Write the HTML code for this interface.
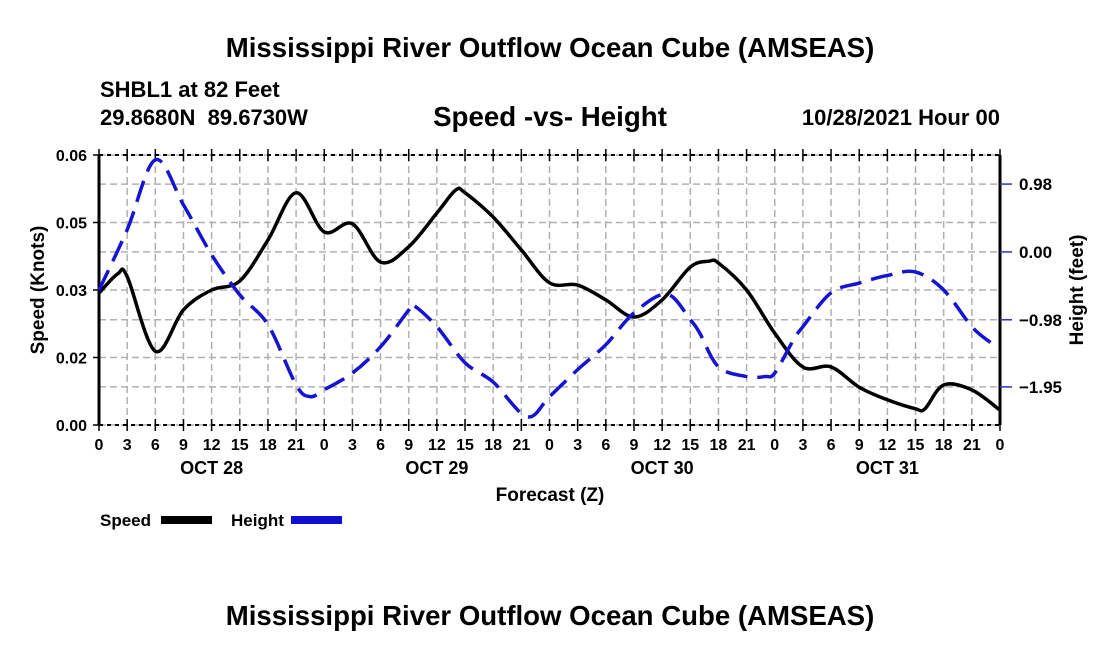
<!DOCTYPE html>
<html><head><meta charset="utf-8">
<style>
body{margin:0;background:#fff;}
svg text{font-family:"Liberation Sans",sans-serif;font-weight:bold;fill:#000;}
</style></head>
<body>
<svg id="chart" width="1100" height="650" xmlns="http://www.w3.org/2000/svg">
<text x="550" y="57" font-size="27.6" text-anchor="middle">Mississippi River Outflow Ocean Cube (AMSEAS)</text>
<text x="100" y="97" font-size="22">SHBL1 at 82 Feet</text>
<text x="100" y="125" font-size="22" xml:space="preserve">29.8680N  89.6730W</text>
<text x="550" y="126" font-size="27.7" text-anchor="middle">Speed -vs- Height</text>
<text x="1000" y="125" font-size="22" text-anchor="end">10/28/2021 Hour 00</text>
<text x="550" y="625" font-size="27.6" text-anchor="middle">Mississippi River Outflow Ocean Cube (AMSEAS)</text>
<g id="grid"></g>
<g id="axes"></g>
<g id="series"></g>
<text x="550" y="501" font-size="19" text-anchor="middle">Forecast (Z)</text>
<text transform="translate(44,290) rotate(-90)" font-size="19" text-anchor="middle">Speed (Knots)</text>
<text transform="translate(1083,290) rotate(-90)" font-size="19" text-anchor="middle">Height (feet)</text>
<g>
<text x="100" y="526" font-size="17">Speed</text>
<rect x="161" y="516" width="51" height="8" fill="#000"/>
<text x="231" y="526" font-size="17">Height</text>
<rect x="291" y="516" width="51" height="8" fill="#1010d0"/>
</g>
</svg>
<script>
const hoursSpeed=[0,2,3,6,9,12,15,18,21,24,27,30,33,36,38,39,42,45,48,51,54,57,60,63,65,66,69,72,75,78,81,84,87,88,90,93,96];
const speedValues=[0.0293,0.0336,0.0330,0.0164,0.0256,0.030,0.032,0.0411,0.0516,0.0429,0.0447,0.0362,0.0396,0.0471,0.0522,0.0516,0.0462,0.0389,0.0316,0.0311,0.0278,0.024,0.0278,0.0351,0.0364,0.036,0.030,0.0204,0.0129,0.0129,0.0084,0.0056,0.0036,0.0036,0.0089,0.0078,0.0033];
const hoursHeight=[0,3,6,9,12,15,18,21,22.5,24,27,30,33,33.5,36,39,42,45.6,48,51,54,57,60.5,63,64,66,69,71,72,74,75,78,81,84,87,90,93,95];
const heightValues=[-0.55,0.32,1.33,0.68,-0.04,-0.62,-1.05,-1.92,-2.09,-1.99,-1.75,-1.37,-0.84,-0.77,-1.08,-1.60,-1.88,-2.38,-2.09,-1.70,-1.34,-0.88,-0.61,-0.98,-1.17,-1.66,-1.80,-1.80,-1.75,-1.27,-1.08,-0.59,-0.45,-0.34,-0.29,-0.55,-1.08,-1.31];
const xTickLabels=["0","3","6","9","12","15","18","21"];
const dayLabels=["OCT 28","OCT 29","OCT 30","OCT 31"];
const speedTicks=[0,0.015,0.03,0.045,0.06];
const speedTickLabels=["0.00","0.02","0.03","0.05","0.06"];
const heightTicks=[0.98,0,-0.98,-1.95];
const heightTickLabels=["0.98","0.00","\u22120.98","\u22121.95"];

const L=99,R=1000,T=155,B=425;
const NS="http://www.w3.org/2000/svg";
const xS=h=>L+h*(R-L)/96;
const yS=v=>B-v*(B-T)/0.06;
const hMax=1.40,hMin=-2.50;
const yH=v=>T+(hMax-v)*(B-T)/(hMax-hMin);
function mk(tag,attrs,parent){const e=document.createElementNS(NS,tag);for(const k in attrs)e.setAttribute(k,attrs[k]);parent.appendChild(e);return e;}
const grid=document.getElementById('grid'),axes=document.getElementById('axes'),series=document.getElementById('series');

for(let h=3;h<96;h+=3){const l=mk('line',{x1:xS(h),x2:xS(h),y1:T,y2:B,stroke:'#b0b0b0','stroke-width':1.5,'stroke-dasharray':'7,4'},grid);

}
speedTicks.forEach(v=>{const l=mk('line',{x1:L,x2:R,y1:yS(v),y2:yS(v),stroke:'#b0b0b0','stroke-width':1.5,'stroke-dasharray':'7,4'},grid);

});
heightTicks.forEach(v=>{const l=mk('line',{x1:L,x2:R,y1:yH(v),y2:yH(v),stroke:'#b0b0b0','stroke-width':1.5,'stroke-dasharray':'7,4'},grid);

});

[[L,T,R,T],[L,B,R,B]].forEach(c=>{const l=mk('line',{x1:c[0],y1:c[1],x2:c[2],y2:c[3],stroke:'#000','stroke-width':2,'stroke-dasharray':'4,4'},axes);

});
[[L],[R]].forEach(c=>{const l=mk('line',{x1:c[0],y1:T,x2:c[0],y2:B,stroke:'#000','stroke-width':3},axes);

});

for(let h=0;h<=96;h+=3){
  const x=xS(h);
  mk('line',{x1:x,x2:x,y1:B-6,y2:B+6,stroke:'#000','stroke-width':1.5},axes);
  mk('line',{x1:x,x2:x,y1:T-6,y2:T+6,stroke:'#000','stroke-width':1.5},axes);
  const t=mk('text',{x:x,y:B+25,'font-size':16,'text-anchor':'middle'},axes);
  t.textContent=xTickLabels[(h%24)/3];
  
  
}
dayLabels.forEach((d,i)=>{const t=mk('text',{x:xS(12+24*i),y:474,'font-size':18,'text-anchor':'middle'},axes);
t.textContent=d;

});
speedTicks.forEach((v,i)=>{const y=yS(v);
mk('line',{x1:L-6,x2:L,y1:y,y2:y,stroke:'#000','stroke-width':1.5},axes);
const t=mk('text',{x:L-12,y:y+6,'font-size':16,'text-anchor':'end'},axes);
t.textContent=speedTickLabels[i];

});
heightTicks.forEach((v,i)=>{const y=yH(v);
mk('line',{x1:R,x2:R+12,y1:y,y2:y,stroke:'#3030c0','stroke-width':1.5},axes);
const t=mk('text',{x:1019,y:y+6,'font-size':17},axes);
t.textContent=heightTickLabels[i];

});

function smooth(pts){let d=`M${pts[0][0]},${pts[0][1]}`;
for(let i=0;i<pts.length-1;i++){const p0=pts[Math.max(0,i-1)],p1=pts[i],p2=pts[i+1],p3=pts[Math.min(pts.length-1,i+2)];
const c1=[p1[0]+(p2[0]-p0[0])/6,p1[1]+(p2[1]-p0[1])/6],c2=[p2[0]-(p3[0]-p1[0])/6,p2[1]-(p3[1]-p1[1])/6];
d+=` C${c1[0]},${c1[1]} ${c2[0]},${c2[1]} ${p2[0]},${p2[1]}`;}return d;}
const sp=mk('path',{d:smooth(hoursSpeed.map((h,i)=>[xS(h),yS(speedValues[i])])),fill:'none',stroke:'#000','stroke-width':3.5},series);


const hp=mk('path',{d:smooth(hoursHeight.map((h,i)=>[xS(h),yH(heightValues[i])])),fill:'none',stroke:'#1414d2','stroke-width':3.5,'stroke-dasharray':'22,10'},series);


</script>
</body></html>
